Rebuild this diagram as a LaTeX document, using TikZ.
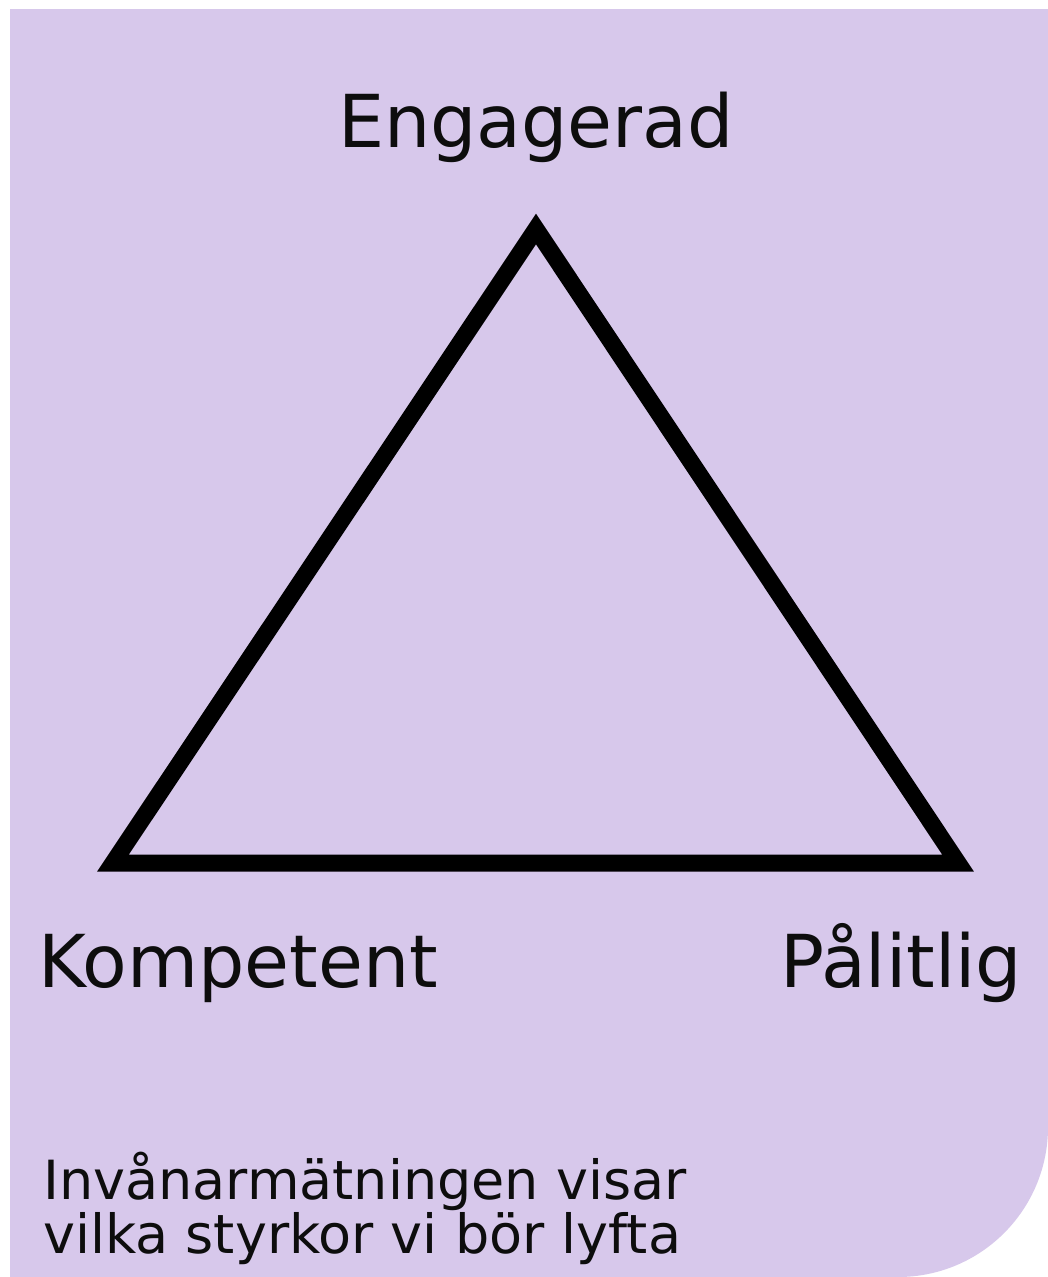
\documentclass[tikz,border=0pt]{standalone}
\usepackage{fontspec}
\setmainfont{DejaVu Sans}
\definecolor{lav}{RGB}{215,200,235}
\begin{document}
\begin{tikzpicture}[x=1pt,y=-1pt,
  bigtxt/.style={font=\fontsize{73}{88}\selectfont, inner sep=0pt, text=black!95},
  smalltxt/.style={font=\fontsize{54}{54}\selectfont, inner sep=0pt, text=black!95},
  tri/.style={line width=17pt, line join=miter, black}]
\useasboundingbox (0,0) rectangle (1048,1277);
\fill[white] (0,0) rectangle (1048,1277);
\fill[lav] (10,9) -- (1048,9) [rounded corners=150pt] -- (1048,1277) [sharp corners] -- (10,1277) -- cycle;
\coordinate (A) at (536,229);
\coordinate (B) at (113,863);
\coordinate (C) at (958,863);
\draw[tri] (A) -- (B) -- (C) -- cycle;
\node[bigtxt, anchor=base] (eng) at (536,147) {Engagerad};
\node[bigtxt, anchor=base west] (komp) at (38,987) {Kompetent};
\node[bigtxt, anchor=base east] (pal) at (1022,987) {Pålitlig};
\node[smalltxt, anchor=base west] (l1) at (43,1199) {Invånarmätningen visar};
\node[smalltxt, anchor=base west] (l2) at (43,1253) {vilka styrkor vi bör lyfta};
\end{tikzpicture}
\end{document}
